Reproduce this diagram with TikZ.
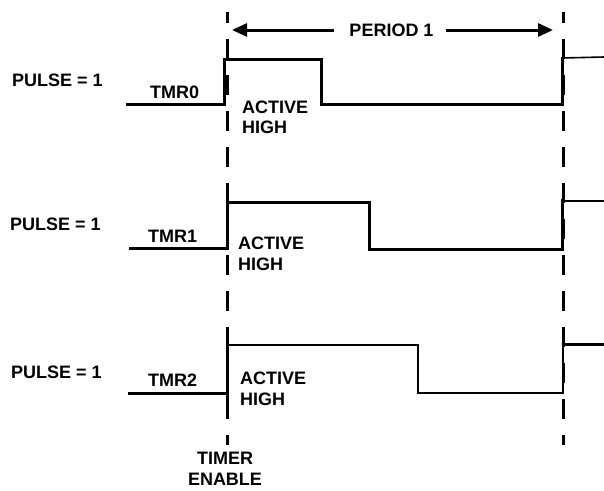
\documentclass[tikz,border=0pt]{standalone}
\usepackage{fontspec}
\setmainfont{Liberation Sans}
\usetikzlibrary{arrows.meta}
\begin{document}
\begin{tikzpicture}[x=1pt,y=-1pt,
  lbl/.style={font=\fontsize{18}{20.5}\selectfont\bfseries, inner sep=0pt, anchor=west, align=left},
  wave/.style={line width=3pt, line join=miter, line cap=rect},
  wavethin/.style={line width=1.6pt},
  wavemid/.style={line width=2.2pt, line join=miter},
  tdash/.style={line width=3pt, dash pattern=on 20pt off 16pt, dash phase=9pt},
  period/.style={line width=3pt, -{Triangle[length=15pt,width=13pt]}}
]
\useasboundingbox (0,0) rectangle (604,490);

% enable / period lines
\coordinate (en0) at (227,12);
\coordinate (en1) at (227,445);
\coordinate (pe0) at (563,12);
\coordinate (pe1) at (563,445);
\draw[tdash] (en0) -- (en1);
\draw[tdash] (pe0) -- (pe1);

% period arrow
\node[lbl, anchor=center] (per) at (391.5,30) {PERIOD 1};
\coordinate (pl) at (232,30);
\coordinate (pr) at (553,30);
\draw[period] (per.west) ++(-15,0) -- (pl);
\draw[period] (per.east) ++(12,0) -- (pr);

% labels
\node[lbl] (p0) at (12,80) {PULSE = 1};
\node[lbl] (t0) at (150,92) {TMR0};
\node[lbl] (a0) at (242,117.5) {ACTIVE\\HIGH};
\node[lbl] (p1) at (10,224) {PULSE = 1};
\node[lbl] (t1) at (148,236) {TMR1};
\node[lbl] (a1) at (238,254) {ACTIVE\\HIGH};
\node[lbl] (p2) at (11,372) {PULSE = 1};
\node[lbl] (t2) at (148,380) {TMR2};
\node[lbl] (a2) at (240,389) {ACTIVE\\HIGH};
\node[lbl, anchor=center, align=center] (te) at (225,469) {TIMER\\ENABLE};

% TMR0 waveform
\draw[wave] (127,104) -- (224,104) -- (224,59) -- (321,59) -- (321,104) -- (562,104) -- (562,58);
\draw[wavethin] (562,58) -- (604,57);

% TMR1 waveform
\draw[wave] (130,248) -- (227,248) -- (227,202) -- (369,202) -- (369,249) -- (562,249) -- (562,200);
\draw[wavethin] (562,201) -- (604,201);

% TMR2 waveform
\draw[wave] (129,393) -- (227,393);
\draw[wave] (227,333) -- (227,415);
\draw[wavemid] (227,345) -- (418,345) -- (418,393) -- (563,393) -- (563,344);
\draw[wave] (563,344) -- (604,344);
\end{tikzpicture}
\end{document}
